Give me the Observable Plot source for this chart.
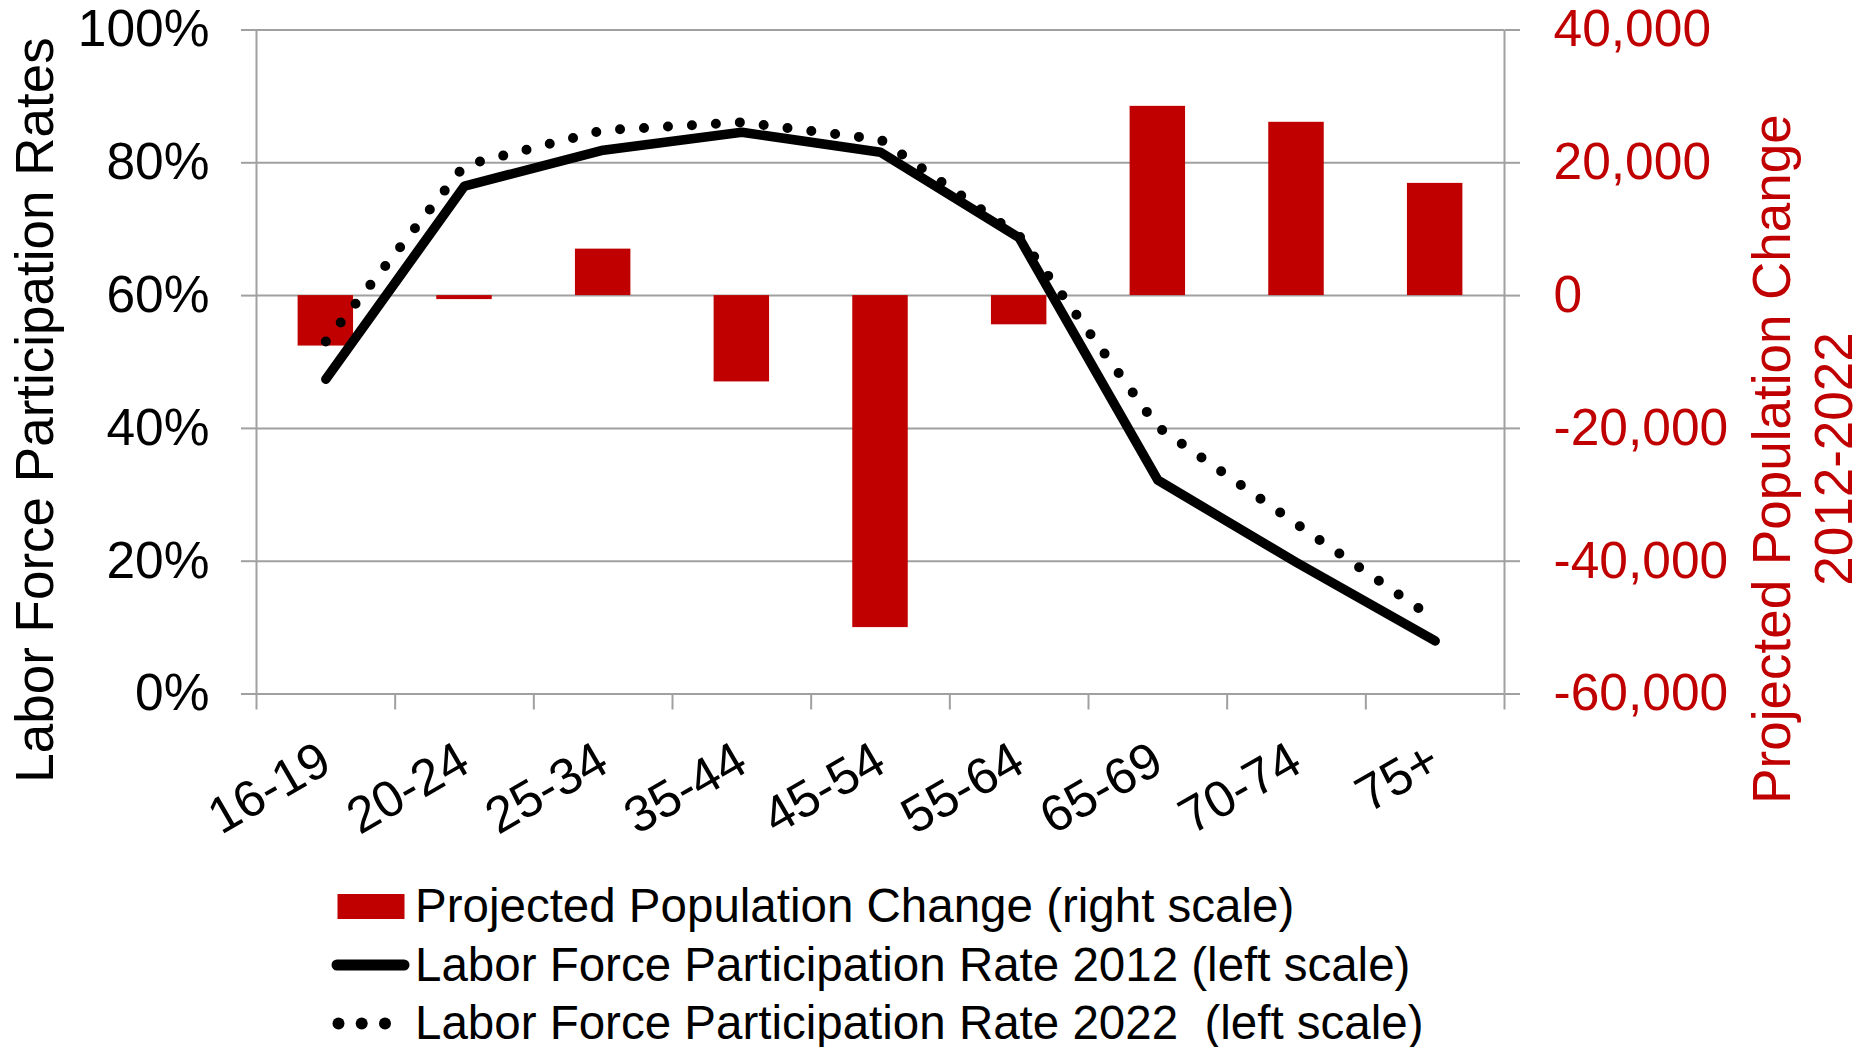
<!DOCTYPE html>
<html><head><meta charset="utf-8">
<script src="https://cdn.jsdelivr.net/npm/d3@7"></script>
<script src="https://cdn.jsdelivr.net/npm/@observablehq/plot@0.6"></script>
<style>html,body{margin:0;padding:0;background:#fff;} svg{display:block;}</style>
</head><body><div id="chart"></div>
<script>
const categories = ["16-19","20-24","25-34","35-44","45-54","55-64","65-69","70-74","75+"];
const popChange = [-7600, -600, 7000, -13000, -50000, -4400, 28500, 26100, 16900];
const lfpr2012 = [47.4, 76.5, 81.9, 84.6, 81.6, 68.7, 32.2, 19.8, 8.0];
const lfpr2022 = [53.1, 79.6, 84.9, 86.1, 83.5, 69.0, 40.2, 25.6, 11.2];
const pctTicks = [0, 20, 40, 60, 80, 100];
const popTicks = [-60000, -40000, -20000, 0, 20000, 40000];
const legendLabels = [
  "Projected Population Change (right scale)",
  "Labor Force Participation Rate 2012 (left scale)",
  "Labor Force Participation Rate 2022  (left scale)"
];
const leftTitle = "Labor Force Participation Rates";
const rightTitle = ["Projected Population Change", "2012-2022"];

const RED = "#C00000", GRID = "#a0a0a0", FONT = "'Liberation Sans', Arial, sans-serif";
const popToPct = d3.scaleLinear().domain([-60000, 40000]).range([0, 100]);
const rows = categories.map((c, i) => ({i, c, pop: popChange[i], r12: lfpr2012[i], r22: lfpr2022[i]}));

const chart = Plot.plot({
  width: 1860, height: 1047,
  marginTop: 29.5, marginBottom: 353.5, marginLeft: 256, marginRight: 356,
  style: {fontFamily: FONT, background: "white", overflow: "visible"},
  x: {domain: [0, categories.length], label: null},
  y: {domain: [0, 100], label: null},
  marks: [
    Plot.ruleY(pctTicks, {stroke: GRID, strokeWidth: 2}),
    Plot.ruleX([0, categories.length], {stroke: GRID, strokeWidth: 2}),
    Plot.axisY(pctTicks, {anchor: "left", tickSize: 15, tickPadding: 32, tickFormat: d => d + "%",
      stroke: GRID, strokeWidth: 2, strokeOpacity: 1, fill: "black", fontSize: 51.5, label: null}),
    Plot.axisY(popTicks.map(v => popToPct(v)), {anchor: "right", tickSize: 15, tickPadding: 34,
      tickFormat: d => Math.round(popToPct.invert(d)).toLocaleString("en-US"),
      stroke: GRID, strokeWidth: 2, strokeOpacity: 1, fill: RED, fontSize: 51.5, label: null}),
    Plot.axisX(d3.range(0, categories.length + 1), {anchor: "bottom", tickSize: 16, tickFormat: () => "",
      stroke: GRID, strokeWidth: 2, strokeOpacity: 1, label: null}),
    Plot.rectY(rows, {x1: d => d.i + 0.3, x2: d => d.i + 0.7, y1: d => popToPct(0), y2: d => popToPct(d.pop), fill: RED}),
    Plot.line(rows, {x: d => d.i + 0.5, y: "r12", stroke: "black", strokeWidth: 9.5, strokeLinejoin: "round", strokeLinecap: "round"}),
    Plot.line(rows, {x: d => d.i + 0.5, y: "r22", stroke: "black", strokeWidth: 10, strokeDasharray: "0 24", strokeLinecap: "round"}),
    Plot.text(rows, {x: d => d.i + 0.5, y: d => 0, text: "c", dy: 62, rotate: -30, textAnchor: "end", lineAnchor: "middle", fontSize: 51, fill: "black"})
  ]
});

const svg = d3.select(chart);
svg.append("text").attr("transform", "translate(53,410) rotate(-90)")
  .attr("text-anchor", "middle").attr("font-size", 53).attr("fill", "black")
  .attr("font-family", FONT).text(leftTitle);
rightTitle.forEach((t, k) => {
  svg.append("text").attr("transform", `translate(${1790 + k * 62},459) rotate(-90)`)
    .attr("text-anchor", "middle").attr("font-size", 53).attr("fill", RED)
    .attr("font-family", FONT).text(t);
});
const lg = svg.append("g").attr("font-family", FONT).attr("font-size", 47.5).attr("text-anchor", "start");
lg.append("rect").attr("x", 337.5).attr("y", 894).attr("width", 67).attr("height", 25).attr("fill", RED);
lg.append("line").attr("x1", 337).attr("x2", 404).attr("y1", 965).attr("y2", 965)
  .attr("stroke", "black").attr("stroke-width", 11).attr("stroke-linecap", "round");
[338.5, 361.7, 385].forEach(cx => lg.append("circle").attr("cx", cx).attr("cy", 1023.5).attr("r", 6).attr("fill", "black"));
[922, 980.5, 1039].forEach((y, k) => {
  lg.append("text").attr("x", 415).attr("y", y).attr("fill", "black").attr("text-anchor", "start")
    .style("white-space", "pre").text(legendLabels[k]);
});

document.getElementById("chart").appendChild(chart);
</script>
</body></html>
